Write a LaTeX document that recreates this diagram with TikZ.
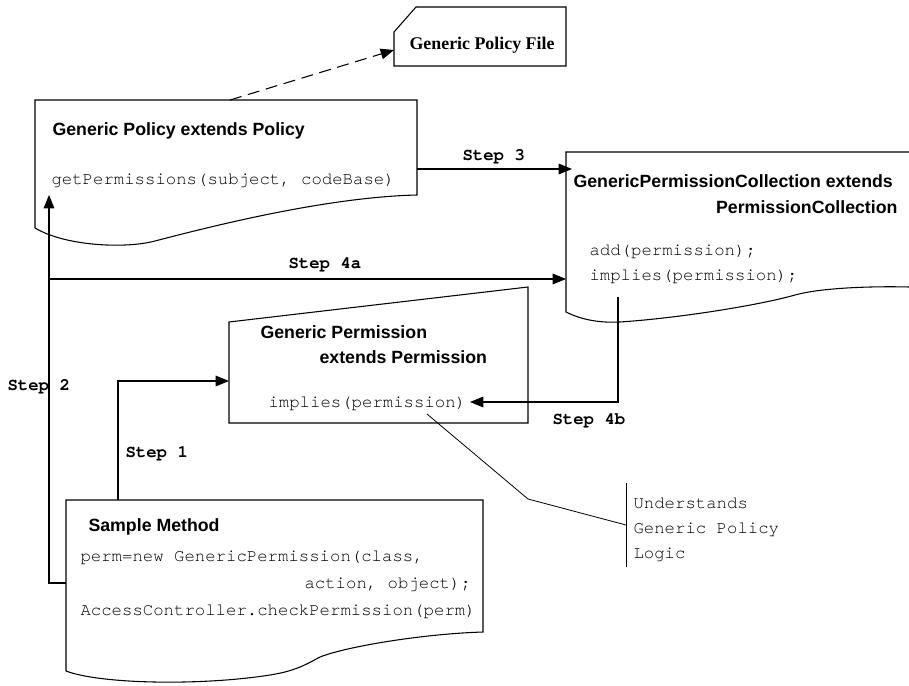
\documentclass[tikz,border=0pt]{standalone}
\usepackage{fontspec}
\setmainfont{Liberation Sans}
\setmonofont{texgyrecursor}[Extension=.otf, UprightFont=*-regular, BoldFont=*-bold]
\newfontfamily\docserif{Liberation Serif}
\usetikzlibrary{arrows.meta}

\begin{document}
\begin{tikzpicture}[x=0.75pt, y=-0.75pt, line width=0.8pt,
  title/.style={font=\fontsize{13.3}{16}\selectfont\bfseries, anchor=base west, inner sep=0pt},
  code/.style={font=\fontsize{13}{16}\selectfont\ttfamily, anchor=base west, inner sep=0pt},
  steplabel/.style={font=\fontsize{13}{16}\selectfont\ttfamily\bfseries, anchor=base west, inner sep=0pt},
  flow/.style={-{Triangle[length=10pt, width=8pt]}},
  outline/.style={draw=black, line join=miter},
]
\useasboundingbox (0,0) rectangle (909,685);

% ---------- box corners ----------
\coordinate (gpf-bl) at (394,66);
\coordinate (gp-tl)  at (35,100);
\coordinate (gp-tr)  at (417,100);
\coordinate (gp-br)  at (417,195);
\coordinate (gp-bl)  at (35,228);
\coordinate (gpc-tl) at (566,152);
\coordinate (gpc-bl) at (566,312);
\coordinate (gperm-tl) at (229,322);
\coordinate (gperm-tr) at (528,287);
\coordinate (gperm-br) at (528,423);
\coordinate (gperm-bl) at (229,423);
\coordinate (sm-tl) at (66,500);
\coordinate (sm-tr) at (483,500);
\coordinate (sm-br) at (483,632);
\coordinate (sm-bl) at (66,671);

% ---------- Generic Policy File (chamfered card) ----------
\draw[outline] (gpf-bl) -- (394,32) -- (416,7) -- (566,7) -- (566,66) -- cycle;
\node[font=\fontsize{13.4}{16}\selectfont\docserif\bfseries, anchor=base, inner sep=0pt]
  (gpf) at (482,50) {Generic Policy File};

% ---------- Generic Policy (document shape) ----------
\draw[outline] (gp-bl) -- (gp-tl) -- (gp-tr) -- (gp-br)
  .. controls (330,197) and (220,224) .. (155,241)
  .. controls (125,249) and (65,246) .. (gp-bl);
\node[title] (gp-title) at (52,135) {Generic Policy extends Policy};
\node[code]  (gp-get)   at (51,184) {getPermissions(subject, codeBase)};

% ---------- GenericPermissionCollection (runs off the right edge) ----------
\draw[outline] (909,152) -- (gpc-tl) -- (gpc-bl)
  .. controls (582,320) and (600,323) .. (620,322)
  .. controls (680,318) and (760,305) .. (795,295)
  .. controls (820,288) and (870,286) .. (909,287);
\node[title] (gpc-title1) at (573,187) {GenericPermissionCollection extends};
\node[title, anchor=base east] (gpc-title2) at (898,213) {PermissionCollection};
\node[code] (gpc-add) at (589,255) {add(permission);};
\node[code] (gpc-imp) at (589,280) {implies(permission);};

% ---------- Generic Permission ----------
\draw[outline] (gperm-tl) -- (gperm-tr) -- (gperm-br) -- (gperm-bl) -- cycle;
\node[title] (gperm-title1) at (260,338) {Generic Permission};
\node[title] (gperm-title2) at (319,363) {extends Permission};
\node[code]  (gperm-imp)    at (268,407) {implies(permission)};

% ---------- Sample Method (document shape) ----------
\draw[outline] (sm-bl) -- (sm-tl) -- (sm-tr) -- (sm-br)
  .. controls (420,634) and (345,647) .. (320,657)
  .. controls (305,665) and (295,671) .. (270,675)
  .. controls (200,686) and (100,684) .. (sm-bl);
\node[title] (sm-title) at (88,531) {Sample Method};
\node[code] (sm-l1) at (80,561) {perm=new GenericPermission(class,};
\node[code] (sm-l2) at (304,588) {action, object);};
\node[code] (sm-l3) at (80,615) {AccessController.checkPermission(perm)};

% ---------- note ----------
\node[code] (note1) at (633,508) {Understands};
\node[code] (note2) at (633,533) {Generic Policy};
\node[code] (note3) at (633,558) {Logic};
\coordinate (bar-top) at (626,483);
\coordinate (bar-bot) at (626,567);
\coordinate (bar-mid) at (626,525);
\coordinate (lead-start) at (427,414);
\coordinate (lead-knee)  at (528,499);
\draw[line width=0.6pt] (bar-top) -- (bar-bot);
\draw[line width=0.6pt] (lead-start) -- (lead-knee) -- (bar-mid);

% ---------- connectors ----------
\coordinate (gp-top) at (230,100);
\coordinate (gpf-in) at (394,50);
\draw[flow, dashed, dash pattern=on 9pt off 5pt] (gp-top) -- (gpf-in);

% Step 1
\coordinate (s1-from) at (118,500);
\coordinate (s1-to)   at (229,381);
\draw[flow] (s1-from) |- (s1-to);
\node[steplabel] (s1) at (125,457) {Step 1};

% Step 2
\coordinate (s2-from) at (66,583);
\coordinate (s2-bend) at (49,583);
\coordinate (s2-to)   at (49,195);
\draw[flow] (s2-from) -- (s2-bend) -- (s2-to);
\node[steplabel] (s2) at (7,390) {Step 2};

% Step 3
\coordinate (s3-from) at (417,169);
\coordinate (s3-to)   at (572,169);
\draw[flow] (s3-from) -- (s3-to);
\node[steplabel] (s3) at (462,160) {Step 3};

% Step 4a
\coordinate (s4a-from) at (49,279);
\coordinate (s4a-to)   at (566,279);
\draw[flow] (s4a-from) -- (s4a-to);
\node[steplabel] (s4a) at (288,268) {Step 4a};

% Step 4b
\coordinate (s4b-from) at (618,297);
\coordinate (s4b-to)   at (470,402);
\draw[flow] (s4b-from) |- (s4b-to);
\node[steplabel] (s4b) at (552,424) {Step 4b};
\end{tikzpicture}
\end{document}
